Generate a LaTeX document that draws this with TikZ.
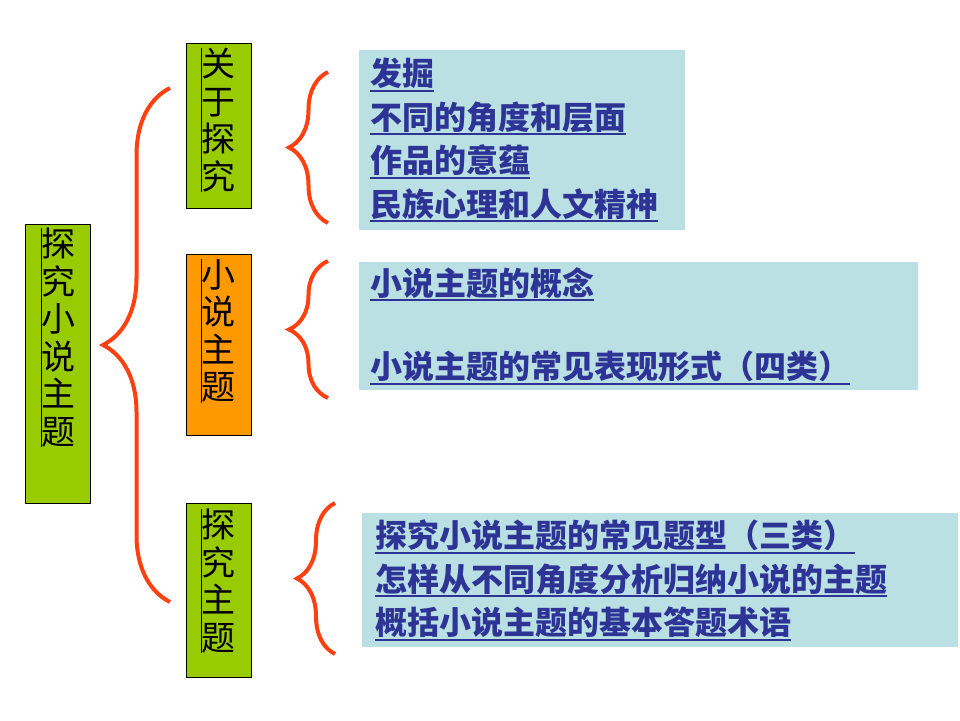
\documentclass[tikz,border=0pt]{standalone}
\usepackage{fontspec}
\setmainfont{Noto Sans CJK SC}
\usepackage{tikz}
\usetikzlibrary{positioning,decorations.pathreplacing}

\definecolor{barGreen}{RGB}{153,204,0}
\definecolor{barOrange}{RGB}{255,153,0}
\definecolor{panelCyan}{RGB}{186,224,228}
\definecolor{linkBlue}{RGB}{46,52,150}
\definecolor{braceRed}{RGB}{255,64,16}

% underlined link text
\newcommand{\lnk}[1]{\leavevmode\setbox0\hbox{#1}\rlap{\rule[-6pt]{\wd0}{2pt}}\box0}

\begin{document}
\begin{tikzpicture}[x=1pt, y=-1pt,
        bar/.style={draw=black, line width=0.8pt, inner sep=0pt, minimum width=65pt, anchor=north west},
        vlabel/.style={inner sep=0pt, align=center, font=\fontsize{34}{37.5}\selectfont},
        panel/.style={fill=panelCyan, inner xsep=11pt, inner ysep=0pt, align=left, anchor=north west,
            font=\fontsize{32}{43.5}\selectfont\bfseries, text=linkBlue},
        caret/.style={line width=1pt},
        curly/.style={draw=braceRed, line width=4pt, decorate, decoration={brace, amplitude=#1}}]

        \useasboundingbox[fill=white] (0,0) rectangle (960,720);

        % Bars
        \node[bar, fill=barGreen, minimum height=279pt] (main) at (25,224) {};
        \node[bar, fill=barGreen, minimum height=165pt] (about) at (186,43) {};
        \node[bar, fill=barOrange, minimum height=181pt] (theme) at (186,254) {};
        \node[bar, fill=barGreen, minimum height=174pt] (explore) at (186,503) {};

        \node[vlabel, below=4pt of main.north, xshift=1pt] (mainText) {探\\究\\小\\说\\主\\题};
        \node[vlabel, below=5pt of about.north] (aboutText) {关\\于\\探\\究};
        \node[vlabel, below=5pt of theme.north] (themeText) {小\\说\\主\\题};
        \node[vlabel, below=6pt of explore.north] (exploreText) {探\\究\\主\\题};

        \foreach \t in {mainText, aboutText, themeText, exploreText}
            \draw[caret] (\t.north west) -- (\t.south west);

        % Panels
        \node[panel, text width=304pt, minimum height=180pt] (dig) at (359,50)
            {\lnk{发掘}\\\lnk{不同的角度和层面}\\\lnk{作品的意蕴}\\\lnk{民族心理和人文精神}};
        \node[panel, text width=537pt, minimum height=128pt] (concept) at (359,262)
            {\lnk{小说主题的概念}\\[40pt]\lnk{小说主题的常见表现形式（四类）}};
        \node[panel, inner xsep=13pt, text width=570pt, minimum height=134pt] (types) at (362,513)
            {\lnk{探究小说主题的常见题型（三类）}\\\lnk{怎样从不同角度分析归纳小说的主题}\\\lnk{概括小说主题的基本答题术语}};

        % Braces
        \coordinate (mainTop) at (170,88);
        \coordinate (mainBot) at (170,602);
        \coordinate (digTop) at (328,72);
        \coordinate (digBot) at (328,223);
        \coordinate (conceptTop) at (328,261);
        \coordinate (conceptBot) at (328,398);
        \coordinate (typesTop) at (335,503);
        \coordinate (typesBot) at (335,654);

        \draw[curly=67] (mainBot) -- (mainTop);
        \draw[curly=39] (digBot) -- (digTop);
        \draw[curly=39] (conceptBot) -- (conceptTop);
        \draw[curly=38] (typesBot) -- (typesTop);

    \end{tikzpicture}
\end{document}
